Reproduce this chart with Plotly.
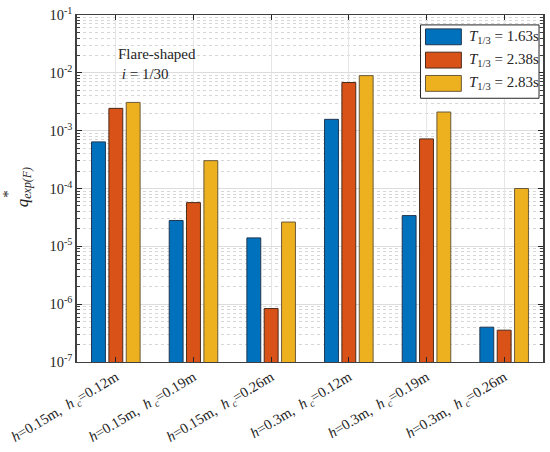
import plotly.graph_objects as go

# Test cases (water depth h, crest height h_c)
cases = [
    "<i>h</i>=0.15m,  <i>h</i><sub> <i>c</i></sub>=0.12m",
    "<i>h</i>=0.15m,  <i>h</i><sub> <i>c</i></sub>=0.19m",
    "<i>h</i>=0.15m,  <i>h</i><sub> <i>c</i></sub>=0.26m",
    "<i>h</i>=0.3m,  <i>h</i><sub> <i>c</i></sub>=0.12m",
    "<i>h</i>=0.3m,  <i>h</i><sub> <i>c</i></sub>=0.19m",
    "<i>h</i>=0.3m,  <i>h</i><sub> <i>c</i></sub>=0.26m",
]

# Wave periods
periods = ["1.63s", "2.38s", "2.83s"]

# Dimensionless overtopping discharge per period
q_t163 = [6.4e-4, 2.8e-5, 1.4e-5, 1.57e-3, 3.4e-5, 4.0e-7]
q_t238 = [2.43e-3, 5.7e-5, 8.4e-7, 6.8e-3, 7.2e-4, 3.55e-7]
q_t283 = [3.08e-3, 3.03e-4, 2.63e-5, 8.95e-3, 2.1e-3, 1.0e-4]

series = [q_t163, q_t238, q_t283]
colors = ["#0072BD", "#D95319", "#EDB120"]
edges = ["#1f3550", "#4a2a1a", "#6b5a3a"]

ytick_vals = [1e-7, 1e-6, 1e-5, 1e-4, 1e-3, 1e-2, 1e-1]
ytick_text = ["10<sup>-7</sup>", "10<sup>-6</sup>", "10<sup>-5</sup>", "10<sup>-4</sup>",
              "10<sup>-3</sup>", "10<sup>-2</sup>", "10<sup>-1</sup>"]

FONT = "Liberation Serif"

fig = go.Figure()
for vals, col, edge, per in zip(series, colors, edges, periods):
    fig.add_trace(go.Bar(
        x=cases, y=vals, name=per,
        marker=dict(color=col, line=dict(color=edge, width=1)),
        showlegend=False,
    ))

fig.update_layout(
    width=550, height=452,
    margin=dict(l=77, r=5, t=13, b=89),
    paper_bgcolor="white", plot_bgcolor="white",
    barmode="group", bargap=0.33, bargroupgap=0.2,
    font=dict(family=FONT, size=14, color="#262626"),
)

fig.update_xaxes(
    type="category",
    range=[-0.5, 5.5],
    showline=True, linecolor="#404040", linewidth=1, mirror="ticks",
    ticks="inside", ticklen=5, tickcolor="#262626",
    showgrid=True, gridcolor="#e6e6e6", gridwidth=1,
    tickangle=-31,
    tickfont=dict(family=FONT, size=14.5, color="#262626"),
)

fig.update_yaxes(
    type="log",
    range=[-7, -1],
    tickvals=ytick_vals, ticktext=ytick_text,
    showline=True, linecolor="#404040", linewidth=1.5, mirror="ticks",
    ticks="inside", ticklen=5, tickcolor="#262626",
    showgrid=True, gridcolor="#dcdcdc", gridwidth=1,
    tickfont=dict(family=FONT, size=14.5, color="#262626"),
    minor=dict(showgrid=True, gridcolor="#d6d6d6", griddash="dot",
               ticks="inside", ticklen=3, tickcolor="#404040",
               dtick="D1"),
    zeroline=False,
)

# Y-axis title: q with * above and exp(F) below
fig.add_annotation(
    xref="paper", yref="paper", x=-0.115, y=0.505,
    text="<i>q</i><sub><i>exp(F)</i></sub>", textangle=-90,
    showarrow=False, font=dict(family=FONT, size=17, color="#262626"),
    xanchor="center", yanchor="middle",
)
fig.add_annotation(
    xref="paper", yref="paper", x=-0.148, y=0.485,
    text="*", textangle=-90,
    showarrow=False, font=dict(family=FONT, size=15, color="#262626"),
    xanchor="center", yanchor="middle",
)

# Case description
fig.add_annotation(
    xref="paper", yref="paper", x=0.083, y=0.915,
    text="Flare-shaped<br> <i>i</i> = 1/30", align="left",
    showarrow=False, font=dict(family=FONT, size=15, color="#262626"),
    xanchor="left", yanchor="top",
)

# Legend box
lx0, lx1 = 422, 541
ly0, ly1 = 23, 97
W, H = 550, 452
pl, pr, pt, pb = 77, 5, 13, 89
pw, ph = W - pl - pr, H - pt - pb

def px2paper(x, y):
    return (x - pl) / pw, 1 - (y - pt) / ph

x0p, y0p = px2paper(lx0, ly0)
x1p, y1p = px2paper(lx1, ly1)
fig.add_shape(type="rect", xref="paper", yref="paper",
              x0=x0p, y0=y1p, x1=x1p, y1=y0p,
              fillcolor="white", line=dict(color="#262626", width=1), layer="above")

for i, (col, edge, per) in enumerate(zip(colors, edges, periods)):
    cy = 35 + i * 23.5
    sx0, sy0 = px2paper(427, cy - 8)
    sx1, sy1 = px2paper(463, cy + 8)
    fig.add_shape(type="rect", xref="paper", yref="paper",
                  x0=sx0, y0=sy1, x1=sx1, y1=sy0,
                  fillcolor=col, line=dict(color=edge, width=1), layer="above")
    tx, ty = px2paper(469, cy)
    fig.add_annotation(
        xref="paper", yref="paper", x=tx, y=ty,
        text=f"<i>T</i><sub>1/3</sub> = {per}",
        showarrow=False, font=dict(family=FONT, size=15, color="#262626"),
        xanchor="left", yanchor="middle",
    )

fig.write_html("out.html")
